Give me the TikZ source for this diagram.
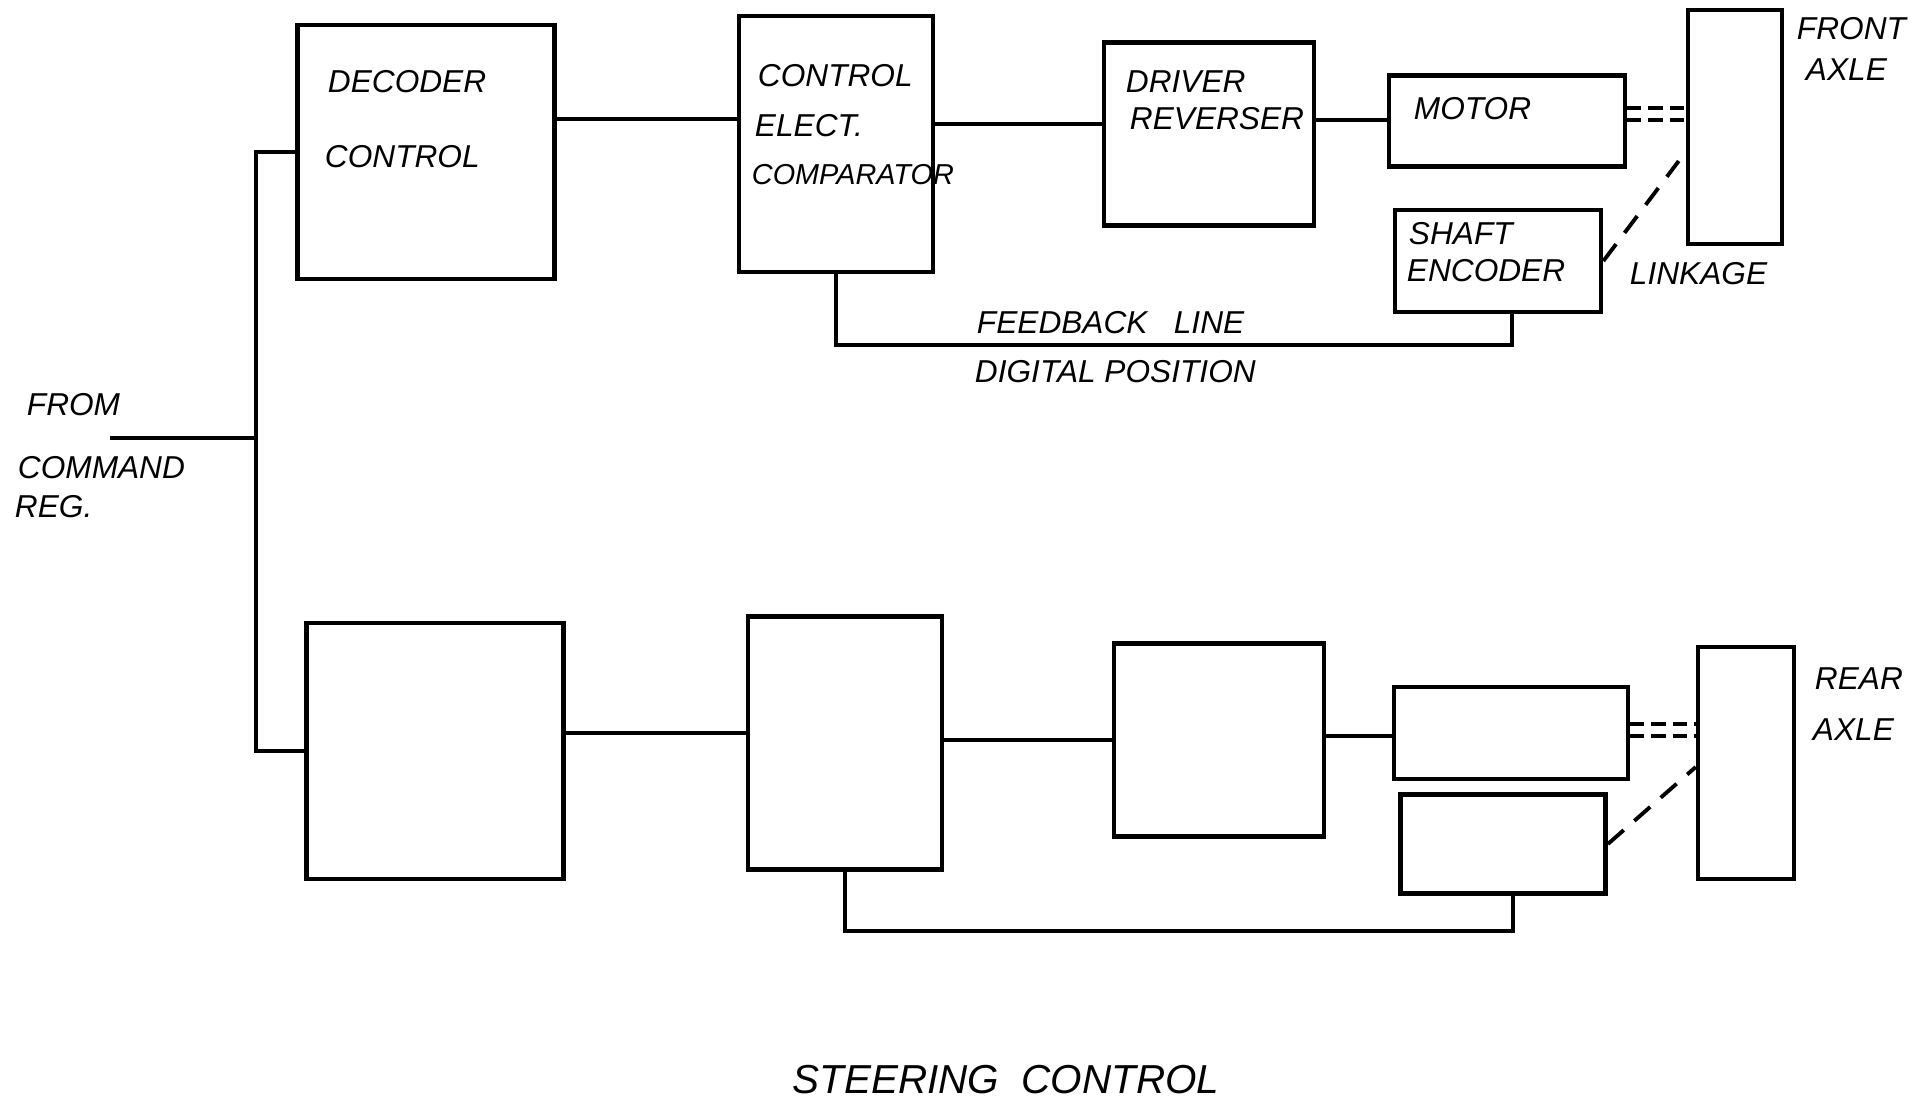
\documentclass[tikz,border=0pt]{standalone}
\usepackage{fontspec}
\setmainfont{Liberation Sans}
\usetikzlibrary{calc}

\begin{document}
\begin{tikzpicture}[x=0.01cm,y=-0.01cm,line width=1.1pt,
  box/.style={draw,line width=1.3pt,inner sep=0pt},
  lbl/.style={anchor=west,inner sep=0pt,font=\fontsize{9}{11}\selectfont\itshape},
  shaft/.style={dash pattern=on 4pt off 2pt},
  link/.style={dash pattern=on 6pt off 4pt}]
\useasboundingbox (0,0) rectangle (1924,1102);
\node[box,minimum width=2.57cm,minimum height=2.54cm] (dec1) at (426,152) {};
\node[box,minimum width=1.94cm,minimum height=2.56cm] (cmp1) at (836,144) {};
\node[box,minimum width=2.10cm,minimum height=1.83cm] (drv1) at (1209,134) {};
\node[box,minimum width=2.36cm,minimum height=0.91cm] (mot1) at (1507,121) {};
\node[box,minimum width=2.06cm,minimum height=1.02cm] (enc1) at (1498,261) {};
\node[box,minimum width=0.94cm,minimum height=2.34cm] (axl1) at (1735,127) {};
\node[box,minimum width=2.57cm,minimum height=2.56cm] (dec2) at (435,751) {};
\node[box,minimum width=1.94cm,minimum height=2.53cm] (cmp2) at (845,743) {};
\node[box,minimum width=2.10cm,minimum height=1.93cm] (drv2) at (1219,740) {};
\node[box,minimum width=2.34cm,minimum height=0.92cm] (mot2) at (1511,733) {};
\node[box,minimum width=2.05cm,minimum height=0.99cm] (enc2) at (1503,844) {};
\node[box,minimum width=0.96cm,minimum height=2.32cm] (axl2) at (1746,763) {};
\coordinate (bus) at (256,438);
\coordinate (cmd) at (110,438);
\node[lbl] (t1) at (326,82) {DECODER};
\node[lbl] (t2) at (323,157) {CONTROL};
\node[lbl] (t3) at (756,76) {CONTROL};
\node[lbl] (t4) at (753,126) {ELECT.};
\node[lbl,font=\fontsize{8.2}{10}\selectfont\itshape] (t5) at (750,175) {COMPARATOR};
\node[lbl] (t6) at (1124,82) {DRIVER};
\node[lbl] (t7) at (1128,119) {REVERSER};
\node[lbl] (t8) at (1412,109) {MOTOR};
\node[lbl] (t9) at (1407,234) {SHAFT};
\node[lbl] (t10) at (1405,271) {ENCODER};
\node[lbl] (t11) at (1628,274) {LINKAGE};
\node[lbl] (t12) at (1795,29) {FRONT};
\node[lbl] (t13) at (1804,70) {AXLE};
\node[lbl] (t14) at (975,323) {FEEDBACK\ \ \ LINE};
\node[lbl] (t15) at (973,372) {DIGITAL POSITION};
\node[lbl] (t16) at (25,405) {FROM};
\node[lbl] (t17) at (16,468) {COMMAND};
\node[lbl] (t18) at (13,507) {REG.};
\node[lbl] (t19) at (1813,679) {REAR};
\node[lbl] (t20) at (1811,730) {AXLE};
\node[inner sep=0pt,font=\fontsize{11.5}{13}\selectfont\itshape] (title) at (1006,1080) {STEERING\ \ CONTROL};
\draw (cmd) -- (bus);
\draw (dec1.west) -| (bus) |- (dec2.west);
\draw (dec1.east |- 0,119) -- (cmp1.west |- 0,119);
\draw (cmp1.east |- 0,124) -- (drv1.west |- 0,124);
\draw (drv1.east |- 0,120) -- (mot1.west |- 0,120);
\draw[shaft] (mot1.east |- 0,108) -- (axl1.west |- 0,108);
\draw[shaft] (mot1.east |- 0,120) -- (axl1.west |- 0,120);
\draw[link] (enc1.east) -- ($(axl1.west |- 0,161)+(-7,0)$);
\draw (cmp1.south) |- ($(enc1.south)+(14,31)$) -- ($(enc1.south)+(14,0)$);
\draw (dec2.east |- 0,733) -- (cmp2.west |- 0,733);
\draw (cmp2.east |- 0,740) -- (drv2.west |- 0,740);
\draw (drv2.east |- 0,736) -- (mot2.west |- 0,736);
\draw[shaft] (mot2.east |- 0,724) -- (axl2.west |- 0,724);
\draw[shaft] (mot2.east |- 0,736) -- (axl2.west |- 0,736);
\draw[link] (enc2.east) -- (axl2.west |- 0,767);
\draw (cmp2.south) |- ($(enc2.south)+(10,35)$) -- ($(enc2.south)+(10,0)$);
\end{tikzpicture}
\end{document}
